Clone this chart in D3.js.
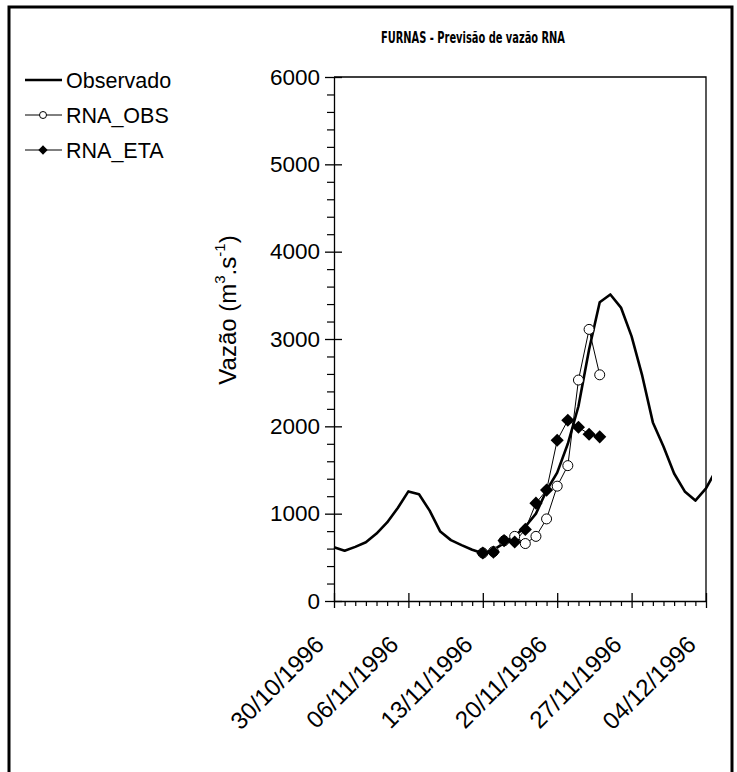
<!DOCTYPE html>
<html><head><meta charset="utf-8">
<script src="https://cdn.jsdelivr.net/npm/d3@7"></script>
<style>body{margin:0;background:#fff}svg{display:block}text{font-family:"Liberation Sans",Arial,sans-serif;fill:#000}</style>
</head><body>
<svg id="c" width="737" height="772"></svg>
<script>
// ---- data ----
const title = "FURNAS - Previsão de vazão RNA";
const obsDates = ["1996-10-30","1996-10-31","1996-11-01","1996-11-02","1996-11-03","1996-11-04","1996-11-05","1996-11-06","1996-11-07","1996-11-08","1996-11-09","1996-11-10","1996-11-11","1996-11-12","1996-11-13","1996-11-14","1996-11-15","1996-11-16","1996-11-17","1996-11-18","1996-11-19","1996-11-20","1996-11-21","1996-11-22","1996-11-23","1996-11-24","1996-11-25","1996-11-26","1996-11-27","1996-11-28","1996-11-29","1996-11-30","1996-12-01","1996-12-02","1996-12-03","1996-12-04","1996-12-05"];
const observado = [615,575,620,672,772,900,1065,1255,1222,1035,795,697,640,587,548,585,662,745,850,1000,1265,1470,1800,2230,2880,3420,3510,3360,3030,2580,2045,1770,1460,1255,1150,1290,1510];
const fcDates = ["1996-11-13","1996-11-14","1996-11-15","1996-11-16","1996-11-17","1996-11-18","1996-11-19","1996-11-20","1996-11-21","1996-11-22","1996-11-23","1996-11-24"];
const rnaObs = [550,565,690,740,658,740,940,1315,1550,2530,3110,2590];
const rnaEta = [550,560,692,676,820,1120,1270,1840,2070,1990,1910,1880];
const yTicks = [0,1000,2000,3000,4000,5000,6000];
const xTickDates = ["1996-10-30","1996-11-06","1996-11-13","1996-11-20","1996-11-27","1996-12-04"];
const legendLabels = ["Observado","RNA_OBS","RNA_ETA"];

const parse = d3.timeParse("%Y-%m-%d");
const fmt = d3.timeFormat("%d/%m/%Y");
const svg = d3.select("#c");

const L=334, R=706, T=77, B=601;
const x = d3.scaleTime().domain([parse("1996-10-30"), parse("1996-12-04")]).range([L,R]);
const y = d3.scaleLinear().domain([0,6000]).range([B,T]);

// outer border
svg.append("path").attr("d","M9,772V7H732V772").attr("fill","none").attr("stroke","#000").attr("stroke-width",3);

// title
svg.append("text").attr("x",473).attr("y",43).attr("text-anchor","middle")
  .style("font-family",'"Liberation Sans Narrow","DejaVu Sans Condensed",sans-serif')
  .style("font-weight","bold").style("font-size","15px")
  .attr("textLength",184).attr("lengthAdjust","spacingAndGlyphs").text(title);

// frame top and right
svg.append("path").attr("d",`M${L},${T}H${R}V${B}`).attr("fill","none").attr("stroke","#000").attr("stroke-width",1.3);

// y axis minor
const yMinor = d3.range(0,6001,200).filter(v=>v%1000!==0);
svg.append("g").attr("transform",`translate(${L},0)`)
  .call(d3.axisLeft(y).tickValues(yMinor).tickSize(7).tickFormat(""))
  .call(g=>{g.select(".domain").remove();g.selectAll("line").attr("stroke-width",1.2);});
// y axis major
const gy = svg.append("g").attr("transform",`translate(${L},0)`)
  .call(d3.axisLeft(y).tickValues(yTicks).tickSize(9).tickSizeOuter(0).tickPadding(5).tickFormat(d3.format("d")));
gy.select(".domain").attr("stroke-width",1.3);
gy.selectAll(".tick line").attr("stroke-width",1.3).attr("x2",-9).attr("x1",8);
gy.selectAll(".tick text").style("font-size","22.5px");

// x axis minor
const xMinor = d3.timeDay.range(parse("1996-10-30"), d3.timeDay.offset(parse("1996-12-04"),1)).filter((d,i)=>i%7!==0);
svg.append("g").attr("transform",`translate(0,${B})`)
  .call(d3.axisBottom(x).tickValues(xMinor).tickSize(5).tickFormat(""))
  .call(g=>{g.select(".domain").remove();g.selectAll("line").attr("stroke-width",1.2);});
// x axis major
const gx = svg.append("g").attr("transform",`translate(0,${B})`)
  .call(d3.axisBottom(x).tickValues(xTickDates.map(parse)).tickSize(7).tickSizeOuter(0).tickFormat(fmt));
gx.select(".domain").attr("stroke-width",1.3);
gx.selectAll(".tick line").attr("stroke-width",1.3).attr("y1",-8);
gx.selectAll(".tick text").style("font-size","24px").attr("text-anchor","end")
  .attr("y",null).attr("dy",null)
  .attr("transform","translate(-9,45) rotate(-45)");

// y axis title
const yt = svg.append("text").attr("transform","translate(236,310) rotate(-90)").attr("text-anchor","middle").style("font-size","24px");
yt.append("tspan").text("Vazão (m");
yt.append("tspan").attr("dy",-11).style("font-size","15px").text("3");
yt.append("tspan").attr("dy",11).text(".s");
yt.append("tspan").attr("dy",-11).style("font-size","15px").text("-1");
yt.append("tspan").attr("dy",11).text(")");

// clip
svg.append("clipPath").attr("id","clp").append("rect").attr("x",0).attr("y",0).attr("width",712).attr("height",772);

const line = d3.line().x(d=>x(d[0])).y(d=>y(d[1]));
const obsData = obsDates.map((d,i)=>[parse(d),observado[i]]);
const obsF = fcDates.map((d,i)=>[parse(d),rnaObs[i]]);
const etaF = fcDates.map((d,i)=>[parse(d),rnaEta[i]]);

svg.append("path").datum(obsData).attr("clip-path","url(#clp)").attr("d",line)
  .attr("fill","none").attr("stroke","#000").attr("stroke-width",2.6).attr("stroke-linejoin","round");

svg.append("path").datum(obsF).attr("d",line).attr("fill","none").attr("stroke","#000").attr("stroke-width",1);
svg.append("path").datum(etaF).attr("d",line).attr("fill","none").attr("stroke","#000").attr("stroke-width",1);

svg.append("g").selectAll("circle").data(obsF).join("circle")
  .attr("cx",d=>x(d[0])).attr("cy",d=>y(d[1])).attr("r",5).attr("fill","#fff").attr("stroke","#000").attr("stroke-width",1);
const diamond = d3.symbol().type(d3.symbolDiamond2).size(110);
svg.append("g").selectAll("path").data(etaF).join("path")
  .attr("transform",d=>`translate(${x(d[0])},${y(d[1])})`).attr("d",diamond).attr("fill","#000");

// legend
const legY = [80,115,150];
const lg = svg.append("g");
legendLabels.forEach((lab,i)=>{
  lg.append("line").attr("x1",25).attr("x2",62).attr("y1",legY[i]).attr("y2",legY[i]).attr("stroke","#000").attr("stroke-width",i===0?2.6:1);
  lg.append("text").attr("x",66).attr("y",legY[i]).attr("dy","0.35em").style("font-size","21.5px").text(lab);
});
lg.append("circle").attr("cx",43).attr("cy",legY[1]).attr("r",3.5).attr("fill","#fff").attr("stroke","#000");
lg.append("path").attr("transform",`translate(43,${legY[2]})`).attr("d",d3.symbol().type(d3.symbolDiamond2).size(55)).attr("fill","#000");
</script>
</body></html>
